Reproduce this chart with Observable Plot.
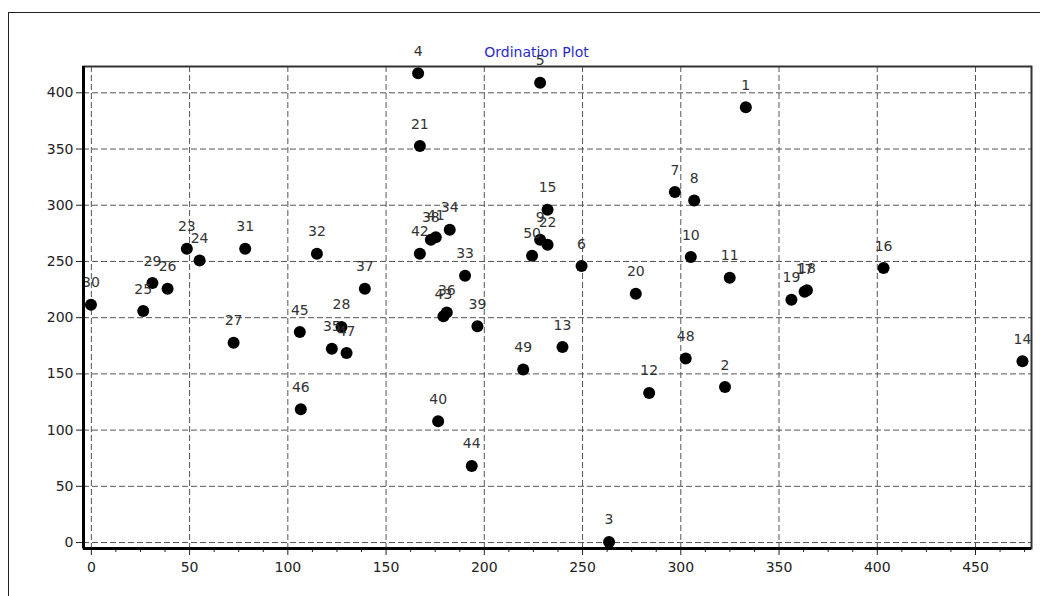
<!DOCTYPE html>
<html><head><meta charset="utf-8">
<script src="https://cdn.jsdelivr.net/npm/d3@7"></script>
<script src="https://cdn.jsdelivr.net/npm/@observablehq/plot@0.6"></script>
<style>
html,body{margin:0;padding:0;background:#fff;overflow:hidden}
#wrap{position:relative;width:1040px;height:596px}
#border{position:absolute;left:8px;top:12px;width:1100px;height:700px;border:1px solid #222;pointer-events:none}
</style></head><body>
<div id="wrap"><div id="border"></div></div>
<script>
const title = "Ordination Plot";
const ids = [1,2,3,4,5,6,7,8,9,10,11,12,13,14,15,16,17,18,19,20,21,22,23,24,25,26,27,28,29,30,31,32,33,34,35,36,37,38,39,40,41,42,43,44,45,46,47,48,49,50];
const xs = [333.1,322.5,263.5,166.3,228.4,249.5,297.0,306.8,228.4,305.1,324.9,283.9,239.8,473.9,232.2,403.2,363.0,364.2,356.3,277.1,167.2,232.2,48.6,55.1,26.4,38.8,72.4,127.3,31.1,-0.2,78.3,114.8,190.2,182.4,122.4,180.9,139.2,172.8,196.5,176.5,175.3,167.2,179.2,193.6,106.1,106.6,129.9,302.5,219.8,224.3];
const ys = [387.2,138.3,0.5,417.4,408.9,245.9,311.7,304.3,269.3,253.9,235.6,133.0,173.9,161.2,296.0,244.1,223.0,224.3,216.0,221.3,352.6,264.9,261.3,250.9,205.9,225.8,177.8,191.7,230.8,211.6,261.3,256.9,237.3,278.2,172.4,204.7,225.8,269.3,192.3,107.8,271.6,256.9,201.2,68.1,187.2,118.5,168.5,163.6,154.0,255.1];
const xTicks = [0,50,100,150,200,250,300,350,400,450];
const yTicks = [0,50,100,150,200,250,300,350,400];
const xMinor = [12.5,25,37.5,62.5,75,87.5,112.5,125,137.5,162.5,175,187.5,212.5,225,237.5,262.5,275,287.5,312.5,325,337.5,362.5,375,387.5,412.5,425,437.5,462.5,475];
const xDomain = [-4, 478.5];
const yDomain = [-5.3, 423.4];

const points = ids.map((id, i) => ({id: String(id), x: xs[i], y: ys[i]}));

const chart = Plot.plot({
  width: 1040,
  height: 596,
  marginLeft: 83,
  marginRight: 9,
  marginTop: 66,
  marginBottom: 48,
  style: {fontFamily: "DejaVu Sans, sans-serif", fontSize: "14px", color: "#222", background: "transparent"},
  x: {domain: xDomain, label: null},
  y: {domain: yDomain, label: null},
  marks: [
    Plot.gridX(xTicks, {stroke: "#555", strokeOpacity: 1, strokeDasharray: "6,3"}),
    Plot.gridY(yTicks, {stroke: "#555", strokeOpacity: 1, strokeDasharray: "6,3"}),
    Plot.axisX({ticks: xMinor, tickSize: 4, text: null, label: null, stroke: "#222"}),
    Plot.axisX({ticks: xTicks, tickSize: 7, tickPadding: 7, fontSize: 14, label: null, stroke: "#222", fill: "#222"}),
    Plot.axisY({ticks: yTicks, tickSize: 7, tickPadding: 3, fontSize: 14, label: null, stroke: "#222", fill: "#222"}),
    Plot.dot(points, {x: "x", y: "y", r: 6, fill: "#000"}),
    Plot.text(points, {x: "x", y: "y", text: "id", dy: -22, fontSize: 14, fill: "#333"}),
    Plot.frame({stroke: "#333", strokeWidth: 2}),
    Plot.ruleX([xDomain[0]], {stroke: "#000", strokeWidth: 3}),
    Plot.ruleY([yDomain[0]], {stroke: "#000", strokeWidth: 3}),
    Plot.text([title], {frameAnchor: "top", dx: -21, dy: -19, fontSize: 14, fill: "#2a2acc"})
  ]
});
document.getElementById("wrap").prepend(chart);
</script>
</body></html>
